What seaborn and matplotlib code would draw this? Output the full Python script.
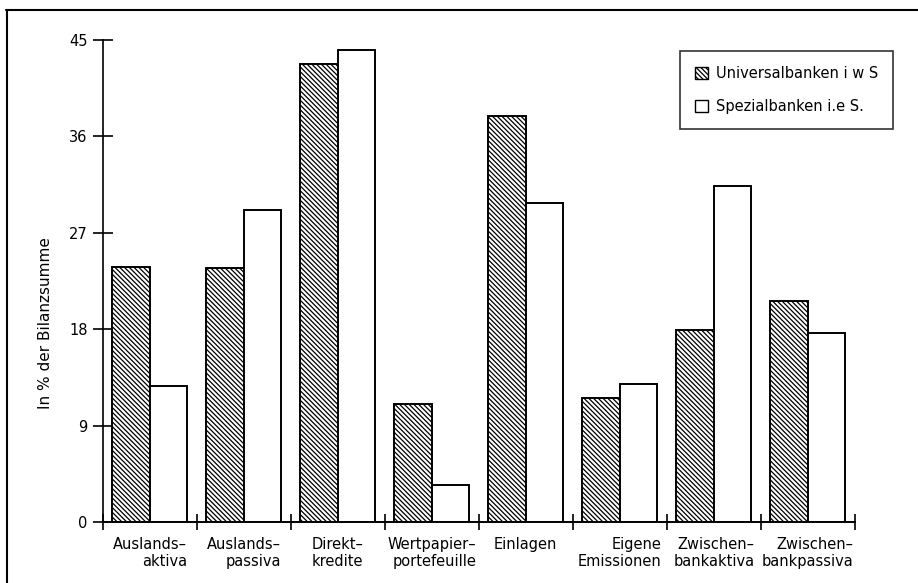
import pandas as pd
import matplotlib
matplotlib.use("Agg")
import matplotlib.pyplot as plt
from matplotlib.patches import Patch
from matplotlib.lines import Line2D
import seaborn as sns

# --- DATA ---
categories = ["Auslands–\naktiva", "Auslands–\npassiva", "Direkt–\nkredite",
              "Wertpapier–\nportefeuille", "Einlagen", "Eigene\nEmissionen",
              "Zwischen–\nbankaktiva", "Zwischen–\nbankpassiva"]
universal = [23.8, 23.7, 42.8, 11.0, 37.9, 11.6, 17.9, 20.6]
spezial = [12.7, 29.1, 44.1, 3.45, 29.8, 12.9, 31.4, 17.6]
series_names = ["Universalbanken i w S", "Spezialbanken i.e S."]
y_ticks = [0, 9, 18, 27, 36, 45]

df = pd.DataFrame({
    "Kategorie": categories * 2,
    "Wert": universal + spezial,
    "Gruppe": [series_names[0]] * len(categories) + [series_names[1]] * len(categories),
})

sns.set_theme(style="ticks", rc={"hatch.linewidth": 0.9, "hatch.color": "black",
                                 "text.color": "black", "axes.labelcolor": "black",
                                 "xtick.color": "black", "ytick.color": "black"})
plt.rcParams["font.family"] = ["DejaVu Sans"]

fig = plt.figure(figsize=(9.18, 5.83), dpi=100)
ax = fig.add_axes([0.112, 0.1046, 0.819, 0.8268])

sns.barplot(data=df, x="Kategorie", y="Wert", hue="Gruppe", hue_order=series_names,
            palette=["white", "white"], edgecolor="black", linewidth=1.4,
            width=0.8, legend=False, ax=ax)

n = len(categories)
for i, p in enumerate(ax.patches):
    if i < n:
        p.set_hatch("\\\\\\\\\\\\\\")
    p.set_edgecolor("black")

ax.set_xlim(-0.5, n - 0.5)
ax.set_ylim(0, 45)
ax.set_yticks(y_ticks)
ax.set_yticklabels([str(t) for t in y_ticks], fontsize=10.5)
ax.tick_params(axis="y", direction="inout", length=14, width=1.2, pad=4, colors="black")

# category labels at group centres, group dividers as minor ticks
ax.set_xticks(range(n))
ax.set_xticklabels(categories, fontsize=10.5, linespacing=1.15)
for lab in ax.get_xticklabels():
    lab.set_multialignment("center" if lab.get_text().startswith("Direkt") else "right")
ax.tick_params(axis="x", which="major", length=0, pad=11, colors="black")
ax.set_xticks([i - 0.5 for i in range(n + 1)], minor=True)
ax.tick_params(axis="x", which="minor", direction="inout", length=12, width=1.2, colors="black")

ax.set_xlabel("")
ax.set_ylabel("In % der Bilanzsumme", fontsize=11, color="black")
ax.yaxis.set_label_coords(-0.066, 0.413)

sns.despine(ax=ax)
ax.spines["left"].set_linewidth(1.2)
ax.spines["bottom"].set_linewidth(1.4)
ax.spines["left"].set_color("black")
ax.spines["bottom"].set_color("black")

handles = [Patch(facecolor="white", edgecolor="black", hatch="\\\\\\\\\\\\\\", linewidth=1),
           Patch(facecolor="white", edgecolor="black", linewidth=1)]
leg = fig.legend(handles, series_names, loc="upper right", bbox_to_anchor=(0.973, 0.9125),
                 frameon=True, fancybox=False, fontsize=10.5, handlelength=0.9,
                 handleheight=0.9, handletextpad=0.5, labelspacing=1.2,
                 borderpad=1.05, borderaxespad=0)
leg.get_frame().set_edgecolor("black")
leg.get_frame().set_linewidth(1.2)
for t in leg.get_texts():
    t.set_color("black")

# outer frame of the scanned page
fig.add_artist(Line2D([6 / 918, 1.0], [1 - 10 / 583, 1 - 10 / 583], color="black", lw=1.5))
fig.add_artist(Line2D([7 / 918, 7 / 918], [0, 1 - 10 / 583], color="black", lw=1.5))

fig.savefig("out.png", dpi=100, facecolor="white")
